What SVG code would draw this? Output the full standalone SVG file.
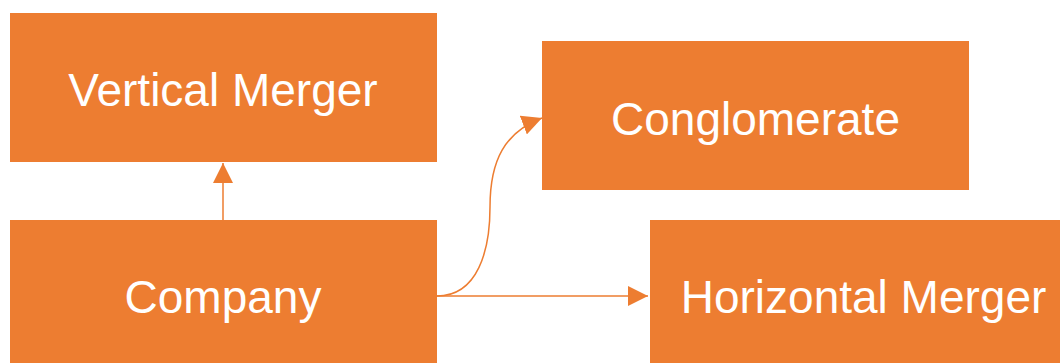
<svg xmlns="http://www.w3.org/2000/svg" width="1060" height="363" viewBox="0 0 1060 363">
<style>
.box{fill:#ED7D31}
.lbl{fill:#fff;font-family:"Liberation Sans",Arial,sans-serif;font-size:46px;text-anchor:middle}
.con{fill:none;stroke:#ED7D31;stroke-width:1.5}
</style>
<defs>
<marker id="ah" viewBox="0 0 20 20" refX="20" refY="10" markerWidth="20" markerHeight="20" markerUnits="userSpaceOnUse" orient="auto">
<path d="M0,0 L20,10 L0,20 Z" fill="#ED7D31"/>
</marker>
</defs>
<rect width="1060" height="363" fill="#fff"/>
<g id="connectors">
<path class="con" d="M223,220 V163" marker-end="url(#ah)"/>
<path class="con" d="M437,296 H648" marker-end="url(#ah)"/>
<path class="con" d="M437,296 C478,296 490,250 490,207 C490,160 505,132 542,118" marker-end="url(#ah)"/>
</g>
<g id="vertical-merger">
<rect class="box" x="10" y="13" width="427" height="149"/>
<text class="lbl" x="223" y="106">Vertical Merger</text>
</g>
<g id="company">
<rect class="box" x="10" y="220" width="427" height="149"/>
<text class="lbl" x="223" y="313">Company</text>
</g>
<g id="conglomerate">
<rect class="box" x="542" y="41" width="427" height="149"/>
<text class="lbl" x="755.5" y="135">Conglomerate</text>
</g>
<g id="horizontal-merger">
<rect class="box" x="650" y="220" width="427" height="149"/>
<text class="lbl" x="863.5" y="313">Horizontal Merger</text>
</g>
</svg>
